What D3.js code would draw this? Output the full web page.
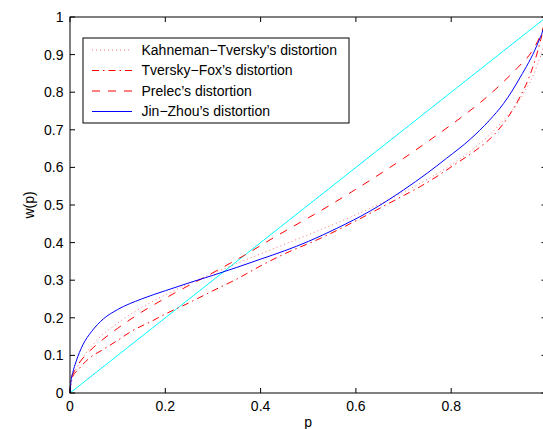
<!DOCTYPE html>
<html>
<head>
<meta charset="utf-8">
<script src="https://cdn.jsdelivr.net/npm/d3@7"></script>
<style>
  html, body { margin: 0; padding: 0; background: #fff; }
  svg { display: block; font-family: "Liberation Sans", Arial, sans-serif; }
</style>
</head>
<body>
<svg id="chart" width="543" height="429"></svg>
<script>
// values, [p, w(p)]
const kahnemanTversky = [[0,0],[0.004,0.035],[0.01,0.055],[0.03,0.1],[0.05,0.132],[0.1,0.186],[0.15,0.227],
  [0.2,0.261],[0.3,0.318],[0.4,0.37],[0.5,0.421],[0.6,0.474],[0.7,0.534],[0.8,0.607],[0.85,0.653],
  [0.9,0.712],[0.95,0.793],[0.98,0.871],[0.995,0.94],[1,1]];
const tverskyFox = [[0,0],[0.002,0.033],[0.02,0.066],[0.04,0.092],[0.07,0.116],[0.1,0.14],[0.13,0.165],
  [0.17,0.19],[0.2,0.21],[0.25,0.24],[0.3,0.272],[0.35,0.303],[0.4,0.338],[0.45,0.37],[0.525,0.411],
  [0.6,0.458],[0.685,0.515],[0.735,0.549],[0.775,0.58],[0.81,0.61],[0.85,0.644],[0.89,0.687],
  [0.92,0.735],[0.945,0.789],[0.962,0.835],[0.976,0.885],[0.988,0.94],[1,1]];
const prelec = [[0,0],[0.002,0.035],[0.01,0.06],[0.03,0.097],[0.05,0.122],[0.1,0.172],[0.15,0.215],
  [0.2,0.252],[0.3,0.32],[0.367,0.367],[0.43,0.415],[0.46,0.437],[0.525,0.484],[0.59,0.534],
  [0.64,0.574],[0.7,0.624],[0.76,0.677],[0.82,0.732],[0.87,0.782],[0.91,0.828],[0.94,0.866],
  [0.97,0.91],[0.99,0.96],[1,1]];
const jinZhou = [[0,0],[0.002,0.03],[0.006,0.055],[0.0126,0.083],[0.027,0.128],[0.045,0.163],
  [0.07,0.197],[0.1,0.222],[0.15,0.25],[0.2,0.272],[0.25,0.293],[0.3,0.313],[0.35,0.334],
  [0.4,0.356],[0.45,0.378],[0.5,0.403],[0.56,0.438],[0.63,0.484],[0.7,0.54],[0.75,0.585],
  [0.79,0.624],[0.84,0.675],[0.88,0.725],[0.91,0.77],[0.945,0.84],[0.98,0.925],[0.995,0.975],[1,1]];
const diagonal = [[0,0],[1,1]];

const xTicks = [0, 0.2, 0.4, 0.6, 0.8, 1];
const yTicks = [0, 0.1, 0.2, 0.3, 0.4, 0.5, 0.6, 0.7, 0.8, 0.9, 1];
const legendNames = ["Kahneman\u2212Tversky\u2019s distortion", "Tversky\u2212Fox\u2019s distortion",
  "Prelec\u2019s distortion", "Jin\u2212Zhou\u2019s distortion"];

const svg = d3.select("#chart");
const L = 70, R = 546.5, T = 17, B = 393;
const x = d3.scaleLinear().domain([0, 1]).range([L, R]);
const y = d3.scaleLinear().domain([0, 1]).range([B, T]);

const styles = [
  { data: kahnemanTversky, color: "#ff0000", dash: "1,3", opacity: 0.55 },
  { data: tverskyFox, color: "#ff0000", dash: "7,4,1.5,4", opacity: 1 },
  { data: prelec, color: "#ff0000", dash: "8,8", opacity: 1 },
  { data: jinZhou, color: "#0000ff", dash: null, opacity: 1 },
];

const line = d3.line().x(d => x(d[0])).y(d => y(d[1])).curve(d3.curveMonotoneX);

svg.append("path").attr("d", line(diagonal))
  .attr("fill", "none").attr("stroke", "#00ffff").attr("stroke-width", 1);

for (const s of styles) {
  svg.append("path").attr("d", line(s.data))
    .attr("fill", "none").attr("stroke", s.color).attr("stroke-width", 1)
    .attr("stroke-dasharray", s.dash).attr("stroke-opacity", s.opacity);
}

// axes box with inward ticks (matlab style)
const axisG = svg.append("g").attr("stroke", "#000").attr("stroke-width", 1);
axisG.append("rect").attr("x", L).attr("y", T).attr("width", R - L).attr("height", B - T)
  .attr("fill", "none");
for (const t of xTicks) {
  axisG.append("line").attr("x1", x(t)).attr("x2", x(t)).attr("y1", B).attr("y2", B - 5);
  axisG.append("line").attr("x1", x(t)).attr("x2", x(t)).attr("y1", T).attr("y2", T + 5);
}
for (const t of yTicks) {
  axisG.append("line").attr("x1", L).attr("x2", L + 5).attr("y1", y(t)).attr("y2", y(t));
  axisG.append("line").attr("x1", R).attr("x2", R - 5).attr("y1", y(t)).attr("y2", y(t));
}

svg.append("g").selectAll("text").data(xTicks.filter(t => t < 1)).join("text")
  .attr("x", d => x(d)).attr("y", 410.5).attr("text-anchor", "middle")
  .attr("font-size", 14).text(d => d3.format("~g")(d));
svg.append("g").selectAll("text").data(yTicks).join("text")
  .attr("x", 63.5).attr("y", d => y(d)).attr("dy", "0.35em").attr("text-anchor", "end")
  .attr("font-size", 14).text(d => d3.format("~g")(d));

svg.append("text").attr("x", (L + R) / 2).attr("y", 427).attr("text-anchor", "middle")
  .attr("font-size", 14).text("p");
svg.append("text").attr("transform", `translate(34,${(T + B) / 2}) rotate(-90)`)
  .attr("text-anchor", "middle").attr("font-size", 14).text("w(p)");

// legend
const lg = svg.append("g");
lg.append("rect").attr("x", 83).attr("y", 38).attr("width", 266).attr("height", 85)
  .attr("fill", "#fff").attr("stroke", "#000").attr("stroke-width", 1);
const rowY = [50, 70.5, 91, 111.5];
styles.forEach((s, i) => {
  lg.append("line").attr("x1", 92).attr("x2", 132).attr("y1", rowY[i]).attr("y2", rowY[i])
    .attr("stroke", s.color).attr("stroke-width", 1).attr("stroke-dasharray", s.dash)
    .attr("stroke-opacity", s.opacity);
  lg.append("text").attr("x", 141.5).attr("y", rowY[i]).attr("dy", "0.35em")
    .attr("font-size", 14).text(legendNames[i]);
});
</script>
</body>
</html>
